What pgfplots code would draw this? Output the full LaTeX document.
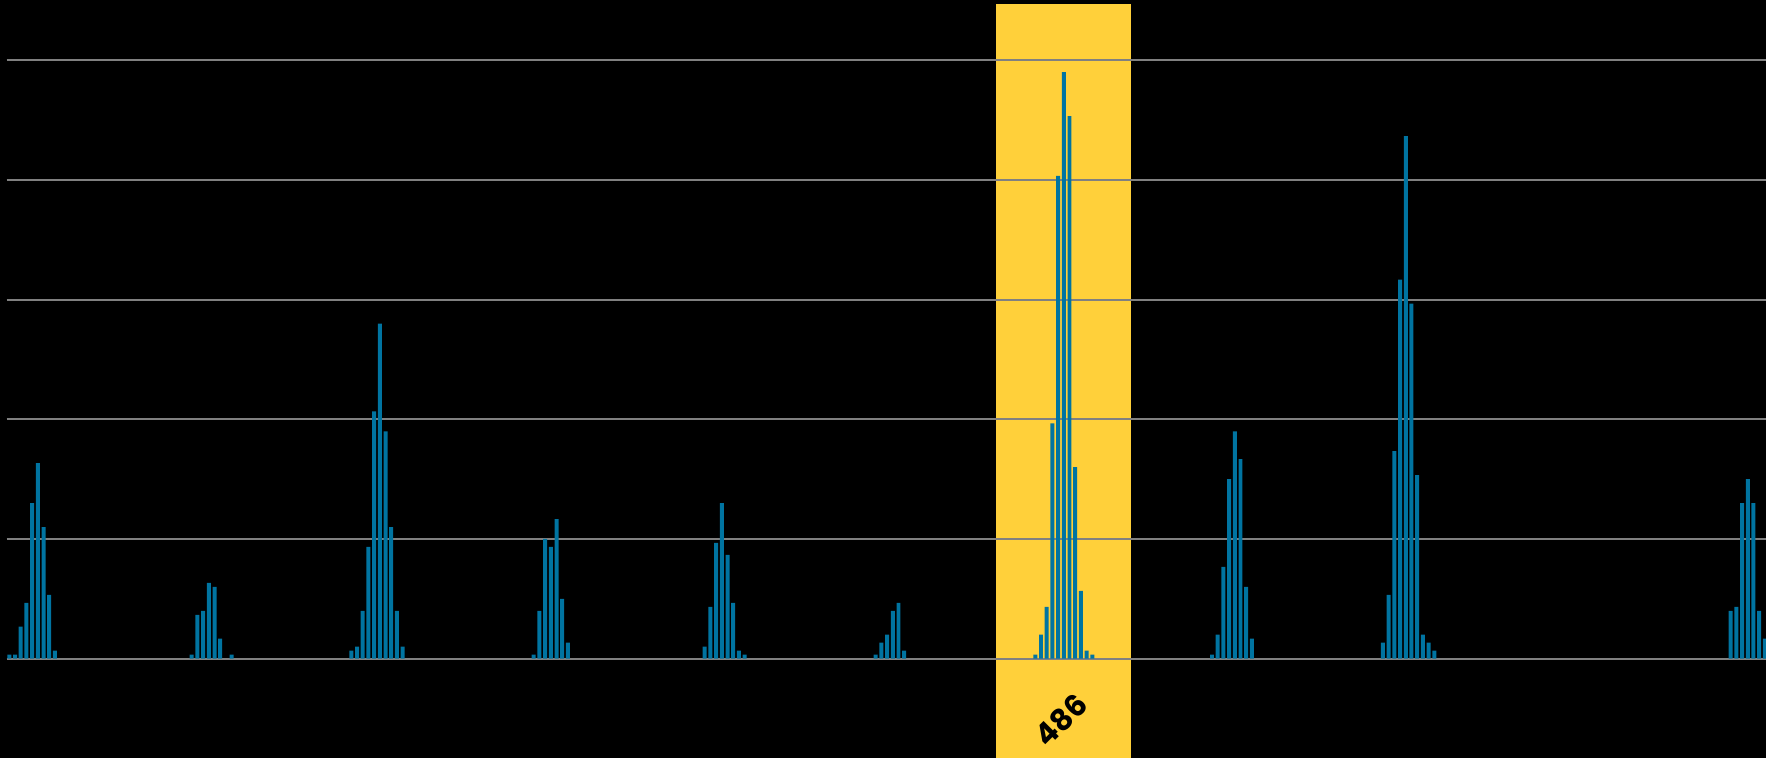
\documentclass[border=0pt]{standalone}
\usepackage{fontspec}
\setmainfont{Poppins}
\usepackage{xcolor}
\pagecolor{black}
\usepackage{pgfplots}
\pgfplotsset{compat=1.18}
\definecolor{barblue}{RGB}{0,116,161}
\definecolor{bandyellow}{RGB}{255,208,58}
\definecolor{gridgrey}{RGB}{128,128,128}
\pgfplotstableread{
x y
0 1
1 1
2 8
3 14
4 39
5 49
6 33
7 16
8 2
32 1
33 11
34 12
35 19
36 18
37 5
39 1
60 2
61 3
62 12
63 28
64 62
65 84
66 57
67 33
68 12
69 3
92 1
93 12
94 30
95 28
96 35
97 15
98 4
122 3
123 13
124 29
125 39
126 26
127 14
128 2
129 1
152 1
153 4
154 6
155 12
156 14
157 2
180 1
181 6
182 13
183 59
184 121
185 147
186 136
187 48
188 17
189 2
190 1
211 1
212 6
213 23
214 45
215 57
216 50
217 18
218 5
241 4
242 16
243 52
244 95
245 131
246 89
247 46
248 6
249 4
250 2
302 12
303 13
304 39
305 45
306 39
307 12
308 5
}\counts
\begin{document}%
\begin{tikzpicture}
\begin{axis}[
  at={(3.35pt,0pt)}, anchor=south west,
  scale only axis, width=879.65pt, height=377pt,
  xmin=-0.46, xmax=308.2, ymin=-24.9, ymax=164.1,
  axis line style={draw=none},
  xtick=\empty, ytick={0,30,60,90,120,150}, yticklabels={},
  major tick length=0pt,
  ymajorgrids, major grid style={gridgrey, line width=1pt},
  set layers,
  ybar, bar width=0.7,
]
\begin{pgfonlayer}{axis background}
\fill[bandyellow] (axis cs:173.1,-24.9) rectangle (axis cs:196.8,164.1);
\end{pgfonlayer}
\addplot[fill=barblue, draw=none] table[x=x, y=y] {\counts};
\node[rotate=45, text=black, font=\bfseries\fontsize{15}{15}\selectfont] at (axis cs:184.5,-15.4) {486};
\end{axis}
\pgfresetboundingbox
\path[use as bounding box] (0,0) rectangle (883pt,379pt);
\end{tikzpicture}%
\end{document}
